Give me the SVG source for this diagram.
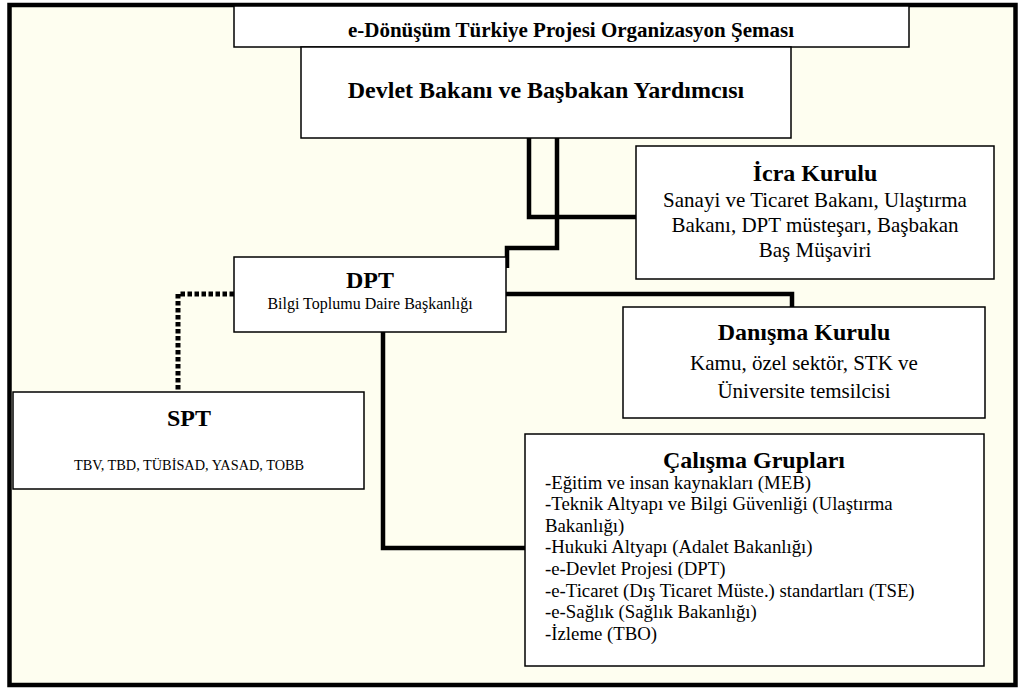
<svg xmlns="http://www.w3.org/2000/svg" width="1020" height="691" viewBox="0 0 1020 691">
<style>
.box{fill:#fff;stroke:#000;stroke-width:1.5}
text{font-family:'Liberation Serif','Times New Roman',serif;fill:#000}
.h{font-weight:bold;font-size:24px;text-anchor:middle}
.p{font-size:21px;text-anchor:middle}
.l{font-size:18.8px}
.ln{fill:none;stroke:#000;stroke-width:4.5;stroke-linejoin:miter}
.dot{fill:none;stroke:#000;stroke-width:5;stroke-dasharray:4.5 2.5}
</style>
<rect x="0" y="0" width="1020" height="691" fill="#fff"/>
<rect x="9.5" y="5" width="1006" height="680" fill="#FEFEF0" stroke="#000" stroke-width="4.5"/>
<g id="connectors">
<path class="ln" d="M529,138 V217 H636"/>
<path class="ln" d="M557,138 V248 H507 V268"/>
<path class="ln" d="M506,294 H792 V307"/>
<path class="ln" d="M383,332 V548 H525"/>
<path class="dot" d="M234,294 H178 V392"/>
</g>
<g id="title">
<rect class="box" x="234" y="6" width="675" height="41"/>
<text x="571" y="37" font-size="21" font-weight="bold" text-anchor="middle">e-Dönüşüm Türkiye Projesi Organizasyon Şeması</text>
</g>
<g id="devlet">
<rect class="box" x="301" y="47" width="490" height="91"/>
<text class="h" x="546" y="98">Devlet Bakanı ve Başbakan Yardımcısı</text>
</g>
<g id="icra">
<rect class="box" x="636" y="146" width="358" height="133"/>
<text class="h" x="815" y="181">İcra Kurulu</text>
<text class="p" x="815" y="207">Sanayi ve Ticaret Bakanı, Ulaştırma</text>
<text class="p" x="815" y="232">Bakanı, DPT müsteşarı, Başbakan</text>
<text class="p" x="815" y="257">Baş Müşaviri</text>
</g>
<g id="dpt">
<rect class="box" x="234" y="257" width="272" height="75"/>
<text class="h" x="370" y="288">DPT</text>
<text x="370" y="309" font-size="16" text-anchor="middle">Bilgi Toplumu Daire Başkanlığı</text>
</g>
<g id="danisma">
<rect class="box" x="623" y="307" width="362" height="111"/>
<text class="h" x="804" y="340">Danışma Kurulu</text>
<text class="p" x="804" y="370">Kamu, özel sektör, STK ve</text>
<text class="p" x="804" y="398">Üniversite temsilcisi</text>
</g>
<g id="spt">
<rect class="box" x="13" y="392" width="351" height="97"/>
<text class="h" x="189" y="426">SPT</text>
<text x="189" y="470" font-size="14.3" text-anchor="middle">TBV, TBD, TÜBİSAD, YASAD, TOBB</text>
</g>
<g id="calisma">
<rect class="box" x="525" y="434" width="459" height="232"/>
<text class="h" x="754" y="468">Çalışma Grupları</text>
<text class="l" x="545" y="489">-Eğitim ve insan kaynakları (MEB)</text>
<text class="l" x="545" y="510">-Teknik Altyapı ve Bilgi Güvenliği (Ulaştırma</text>
<text class="l" x="545" y="532">Bakanlığı)</text>
<text class="l" x="545" y="553">-Hukuki Altyapı (Adalet Bakanlığı)</text>
<text class="l" x="545" y="575">-e-Devlet Projesi (DPT)</text>
<text class="l" x="545" y="597">-e-Ticaret (Dış Ticaret Müste.) standartları (TSE)</text>
<text class="l" x="545" y="618">-e-Sağlık (Sağlık Bakanlığı)</text>
<text class="l" x="545" y="640">-İzleme (TBO)</text>
</g>
</svg>
